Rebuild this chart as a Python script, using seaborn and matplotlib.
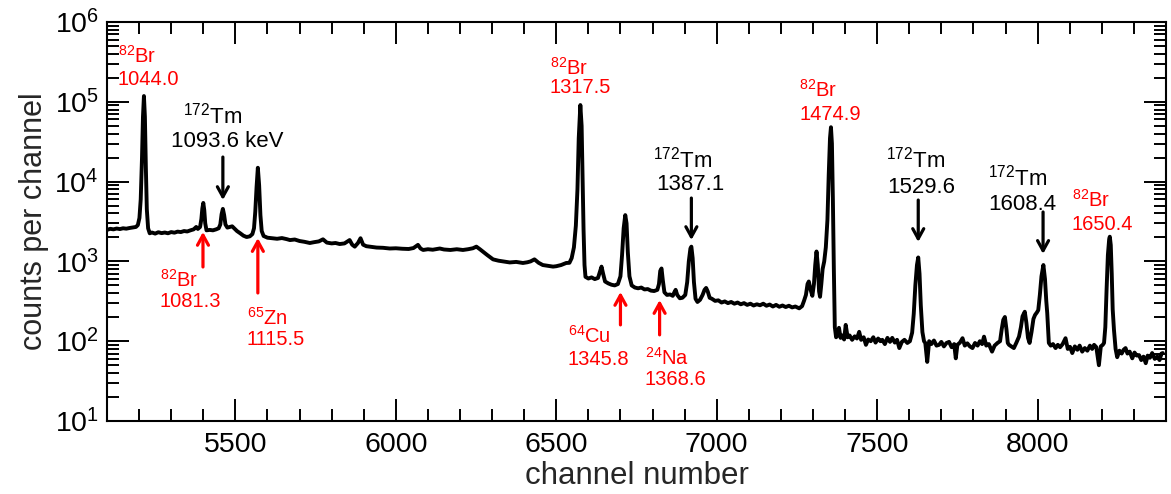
import matplotlib
matplotlib.use("Agg")
import matplotlib.pyplot as plt
import numpy as np
import pandas as pd
import seaborn as sns
from matplotlib.ticker import LogLocator, MultipleLocator, LogFormatterSciNotation, NullFormatter

# Gamma-ray spectrum: channel number vs counts per channel
channel = [
    5100, 5110, 5120, 5130, 5140, 5150, 5160, 5170, 5180, 5190, 5196, 5201, 5205, 5209, 5212,
    5215, 5218, 5221, 5224, 5228, 5233, 5240, 5250, 5260, 5270, 5280, 5290, 5300, 5310, 5320,
    5330, 5340, 5350, 5360, 5370, 5378, 5383, 5390, 5394, 5397, 5400, 5403, 5406, 5410, 5420,
    5430, 5440, 5448, 5453, 5457, 5461, 5465, 5469, 5475, 5482, 5490, 5496, 5505, 5515, 5525,
    5535, 5545, 5553, 5558, 5562, 5566, 5570, 5574, 5578, 5582, 5588, 5600, 5615, 5630, 5645,
    5660, 5670, 5685, 5700, 5715, 5732, 5745, 5760, 5773, 5785, 5800, 5812, 5825, 5840, 5856,
    5864, 5872, 5882, 5890, 5898, 5908, 5925, 5940, 5960, 5981, 6000, 6020, 6040, 6055, 6069,
    6077, 6085, 6100, 6115, 6137, 6150, 6170, 6190, 6209, 6225, 6240, 6251, 6262, 6271, 6285,
    6303, 6320, 6340, 6355, 6375, 6396, 6410, 6420, 6432, 6445, 6458, 6475, 6490, 6500, 6515,
    6531, 6541, 6548, 6555, 6561, 6566, 6570, 6575, 6579, 6582, 6585, 6588, 6591, 6600, 6610,
    6620, 6630, 6636, 6641, 6646, 6652, 6662, 6672, 6682, 6692, 6700, 6705, 6710, 6715, 6719,
    6723, 6728, 6735, 6745, 6755, 6765, 6775, 6785, 6795, 6805, 6815, 6820, 6824, 6828, 6832,
    6837, 6845, 6855, 6863, 6868, 6872, 6877, 6885, 6893, 6902, 6908, 6913, 6918, 6921, 6925,
    6929, 6934, 6940, 6948, 6956, 6962, 6967, 6972, 6978, 6985, 6995, 7005, 7015, 7025, 7035,
    7045, 7055, 7065, 7075, 7085, 7095, 7105, 7115, 7125, 7135, 7145, 7155, 7165, 7175, 7185,
    7195, 7205, 7215, 7225, 7235, 7245, 7257, 7266, 7272, 7278, 7283, 7287, 7292, 7298, 7303,
    7307, 7311, 7315, 7319, 7322, 7326, 7330, 7335, 7340, 7345, 7349, 7353, 7356, 7359, 7362,
    7365, 7368, 7372, 7378, 7381, 7386, 7392, 7397, 7402, 7408, 7414, 7422, 7430, 7437, 7444,
    7450, 7458, 7465, 7472, 7480, 7488, 7495, 7503, 7510, 7516, 7524, 7532, 7540, 7547, 7555,
    7562, 7569, 7577, 7585, 7594, 7602, 7609, 7614, 7619, 7624, 7628, 7632, 7636, 7641, 7646,
    7650, 7656, 7662, 7669, 7677, 7685, 7693, 7700, 7708, 7716, 7724, 7732, 7740, 7745, 7750,
    7758, 7766, 7773, 7781, 7789, 7797, 7805, 7813, 7820, 7827, 7833, 7840, 7848, 7858, 7866,
    7875, 7883, 7888, 7893, 7898, 7903, 7907, 7911, 7918, 7926, 7934, 7942, 7948, 7953, 7960,
    7965, 7970, 7975, 7981, 7987, 7992, 7998, 8002, 8007, 8012, 8018, 8023, 8027, 8030, 8035,
    8041, 8048, 8056, 8063, 8070, 8078, 8087, 8094, 8101, 8108, 8116, 8124, 8131, 8139, 8147,
    8155, 8163, 8170, 8176, 8183, 8191, 8197, 8203, 8207, 8211, 8215, 8219, 8223, 8225, 8228,
    8231, 8234, 8238, 8243, 8248, 8255, 8262, 8268, 8274, 8280, 8287, 8295, 8302, 8309, 8316,
    8323, 8330, 8337, 8343, 8350, 8357, 8365, 8373, 8380, 8386, 8390,
]
counts = [
    2480, 2560, 2520, 2580, 2540, 2600, 2570, 2620, 2660, 2700, 2850, 3500, 6000, 20000, 65000,
    118000, 65000, 15000, 4500, 2600, 2250, 2300, 2230, 2320, 2260, 2300, 2250, 2330, 2290, 2360,
    2330, 2400, 2370, 2450, 2520, 2700, 2550, 2700, 3400, 4600, 5400, 4400, 3000, 2450, 2480,
    2450, 2520, 2600, 2900, 3900, 4550, 3800, 2900, 2650, 2700, 2750, 2600, 2400, 2250, 2100,
    2020, 2060, 2200, 2600, 4200, 8500, 14900, 9000, 3800, 2400, 2080, 1980, 1950, 1920, 1960,
    1900, 1850, 1880, 1800, 1760, 1700, 1740, 1780, 1890, 1720, 1680, 1700, 1650, 1680, 1850,
    1620, 1530, 1700, 1950, 1620, 1550, 1520, 1490, 1480, 1450, 1460, 1440, 1430, 1470, 1610,
    1450, 1390, 1420, 1400, 1450, 1410, 1390, 1420, 1390, 1420, 1460, 1530, 1420, 1330, 1200,
    1060, 1020, 990, 970, 985, 955, 975, 1000, 1060, 960, 900, 880, 860, 870, 900,
    955, 960, 1100, 1500, 2800, 8000, 35000, 91000, 50000, 12000, 2500, 900, 640, 610, 630,
    600, 620, 740, 860, 700, 560, 530, 510, 500, 520, 650, 1200, 2600, 3800, 3000,
    1300, 650, 500, 470, 460, 470, 445, 450, 430, 425, 440, 520, 760, 815, 580,
    410, 380, 385, 370, 410, 440, 380, 345, 350, 380, 550, 1000, 1450, 1530, 1100,
    550, 340, 310, 330, 380, 440, 465, 420, 350, 340, 320, 325, 305, 315, 300,
    310, 295, 305, 290, 300, 285, 295, 280, 290, 282, 295, 278, 288, 272, 285,
    270, 280, 268, 278, 265, 272, 258, 275, 320, 380, 520, 560, 450, 370, 520,
    900, 1330, 900, 420, 360, 520, 800, 1000, 1500, 3300, 12000, 35000, 48000, 30000, 6000,
    800, 150, 112, 120, 147, 110, 118, 105, 160, 112, 118, 104, 115, 108, 131,
    104, 112, 90, 105, 100, 112, 96, 108, 100, 104, 92, 110, 98, 110, 96,
    104, 82, 98, 104, 95, 100, 128, 220, 500, 900, 1120, 700, 280, 130, 100,
    95, 55, 100, 92, 102, 88, 90, 98, 86, 95, 98, 84, 92, 61, 90,
    96, 109, 88, 94, 86, 82, 95, 88, 100, 92, 114, 88, 92, 74, 88,
    95, 100, 140, 185, 201, 140, 95, 90, 86, 82, 96, 114, 150, 205, 234,
    170, 110, 95, 130, 190, 213, 230, 245, 380, 650, 900, 600, 320, 225, 95,
    88, 92, 82, 90, 84, 92, 109, 80, 85, 71, 86, 78, 88, 74, 82,
    76, 88, 80, 90, 84, 50, 86, 90, 95, 150, 450, 1200, 1900, 2040, 1600,
    700, 250, 138, 80, 63, 76, 70, 78, 82, 70, 74, 61, 72, 66, 67,
    58, 64, 53, 66, 62, 71, 60, 64, 58, 70, 71,
]

# Peak identifications
red_isotopes = ["82", "82", "65", "82", "64", "24", "82", "82"]
red_elements = ["Br", "Br", "Zn", "Br", "Cu", "Na", "Br", "Br"]
red_energies = ["1044.0", "1081.3", "1115.5", "1317.5", "1345.8", "1368.6", "1474.9", "1650.4"]
red_text_x = [5134, 5265, 5536, 6479, 6535, 6775, 7257, 8107]
red_text_y = [(3.06e5, 1.63e5), (477, 268), (160, 89.6), (2.17e5, 1.29e5),
              (94.8, 50.3), (50.3, 28.3), (1.15e5, 5.92e4), (4810, 2470)]

black_isotopes = ["172", "172", "172", "172"]
black_elements = ["Tm", "Tm", "Tm", "Tm"]
black_energies = ["1093.6 keV", "1387.1", "1529.6", "1608.4"]
black_text_x = [(5337, 5299), (6800, 6812), (7528, 7531), (7846, 7846)]
black_text_y = [(5.42e4, 2.71e4), (1.48e4, 7850), (1.48e4, 7200), (9060, 4400)]

# Arrows: (channel, tail counts, head counts)
black_arrows = [(5461, 2.03e4, 5870), (6921, 6220, 1850), (7628, 5870, 1750), (8017, 4160, 1240)]
red_arrows = [(5399, 851, 2340), (5570, 402, 1960), (6700, 160, 414), (6822, 120, 328)]

sns.set_theme(style="ticks")
plt.rcParams["font.family"] = ["Liberation Sans", "DejaVu Sans"]
plt.rcParams["mathtext.fontset"] = "custom"
plt.rcParams["mathtext.rm"] = "Liberation Sans"
plt.rcParams["mathtext.it"] = "Liberation Sans:italic"
plt.rcParams["mathtext.bf"] = "Liberation Sans:bold"

fig = plt.figure(figsize=(11.71, 4.94), dpi=100)
ax = fig.add_axes([0.0914, 0.1478, 0.9043, 0.8077])

df = pd.DataFrame({"channel": channel, "counts": counts})
sns.lineplot(data=df, x="channel", y="counts", ax=ax, color="black", lw=2.8,
             estimator=None, sort=False)

ax.set_yscale("log")
ax.set_xlim(5100, 8400)
ax.set_ylim(10, 1e6)

ax.xaxis.set_major_locator(MultipleLocator(500))
ax.xaxis.set_minor_locator(MultipleLocator(100))
ax.yaxis.set_major_locator(LogLocator(base=10, numticks=10))
ax.yaxis.set_minor_locator(LogLocator(base=10, subs=np.arange(2, 10), numticks=20))
ax.yaxis.set_major_formatter(LogFormatterSciNotation())
ax.yaxis.set_minor_formatter(NullFormatter())

ax.tick_params(which="both", direction="in", top=True, right=True, colors="black",
               width=1.4)
ax.tick_params(which="major", length=15.5, labelsize=20.5)
ax.tick_params(which="minor", length=8.4)
ax.tick_params(axis="x", which="major", pad=8)
ax.tick_params(axis="y", which="major", pad=6)

for sp in ax.spines.values():
    sp.set_linewidth(1.5)
    sp.set_color("black")

ax.set_xlabel("channel number", fontsize=22.5, labelpad=2)
ax.set_ylabel("counts per channel", fontsize=22, labelpad=4)
ax.grid(False)

# Red labels (Br, Zn, Cu, Na)
for iso, el, en, x, (ye, yn) in zip(red_isotopes, red_elements, red_energies,
                                    red_text_x, red_text_y):
    ax.text(x, ye, rf"$^{{{iso}}}$" + el, color="red", fontsize=14.5,
            ha="left", va="baseline")
    ax.text(x, yn, en, color="red", fontsize=14.5, ha="left", va="baseline")

# Black labels (Tm)
for iso, el, en, (xe, xn), (ye, yn) in zip(black_isotopes, black_elements, black_energies,
                                           black_text_x, black_text_y):
    ax.text(xe, ye, rf"$^{{{iso}}}$" + el, color="black", fontsize=16,
            ha="left", va="baseline")
    ax.text(xn, yn, en, color="black", fontsize=16, ha="left", va="baseline")

for arrows, col in ((black_arrows, "black"), (red_arrows, "red")):
    for x, tail, head in arrows:
        ax.annotate("", xy=(x, head), xytext=(x, tail),
                    arrowprops=dict(arrowstyle="->,head_length=0.6,head_width=0.33",
                                    color=col, lw=2.3, shrinkA=0, shrinkB=0))

fig.savefig("out.png", dpi=100)
